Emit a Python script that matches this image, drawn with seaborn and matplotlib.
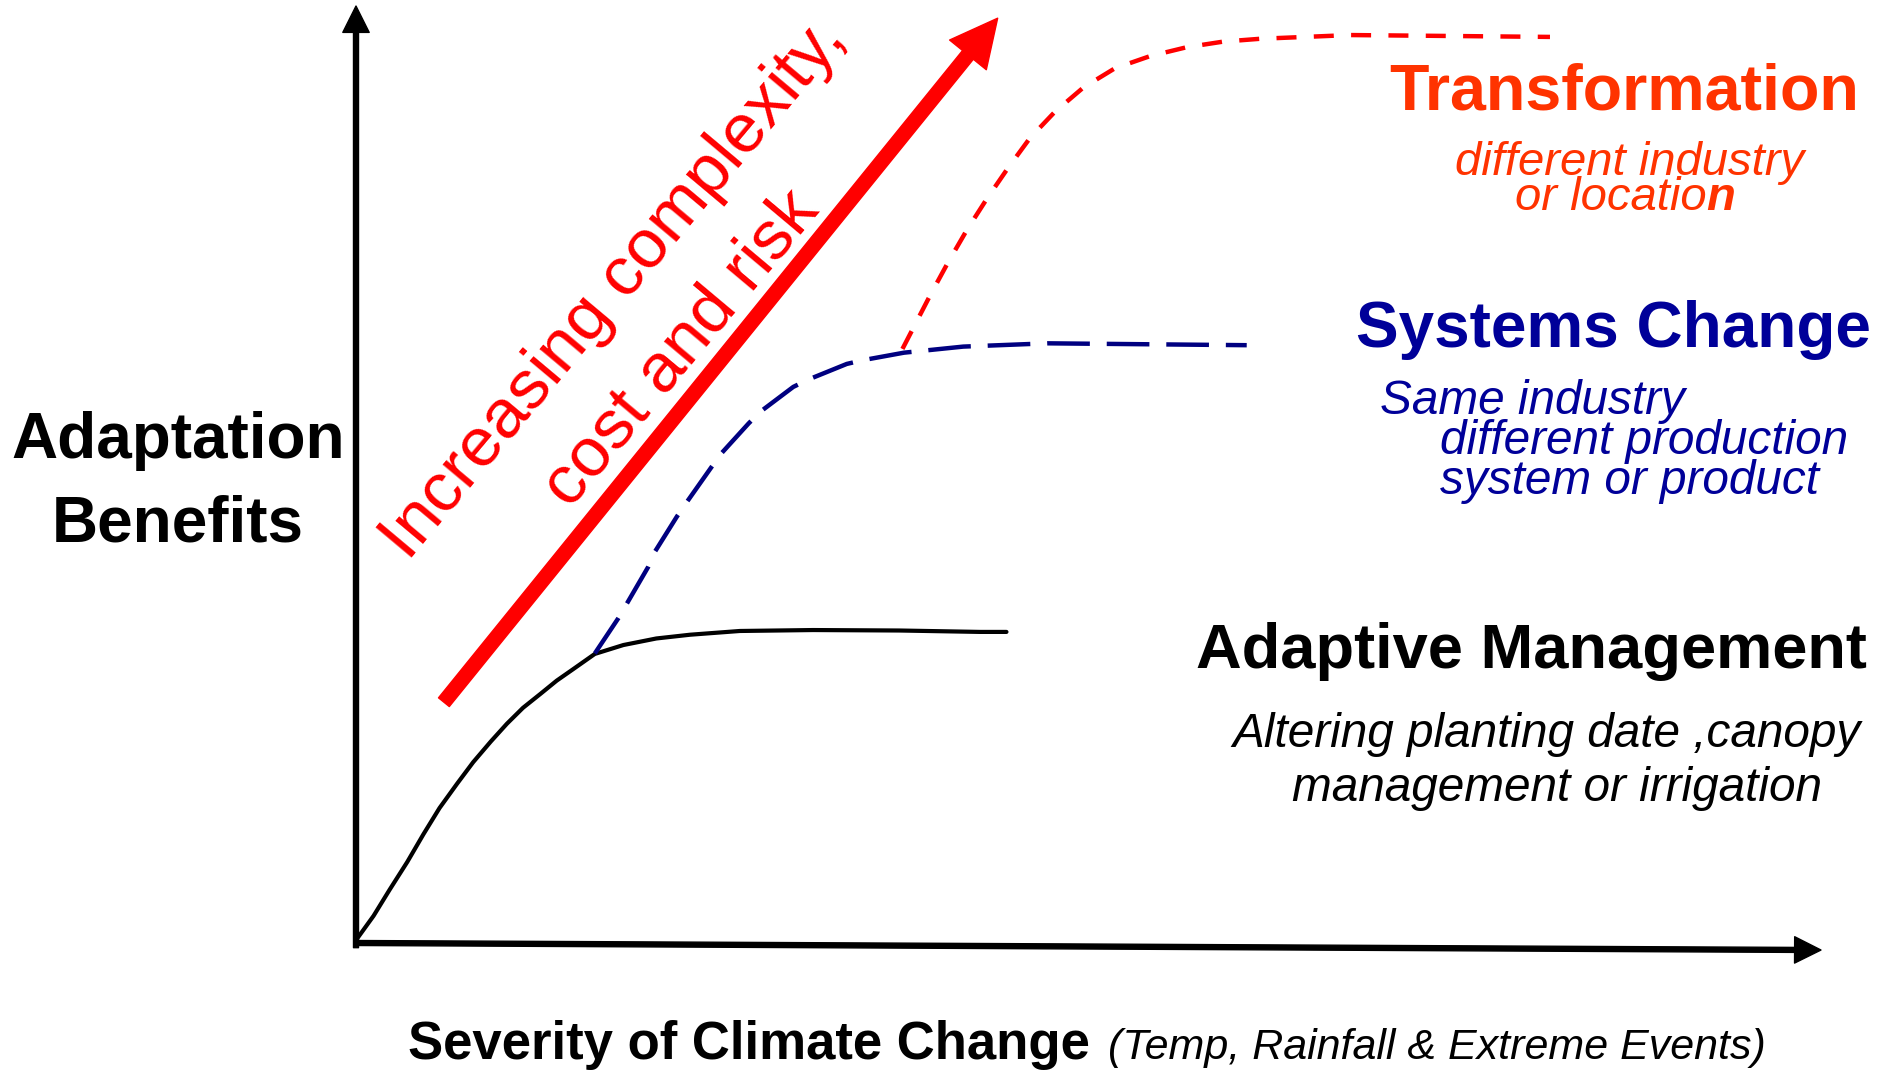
import matplotlib
matplotlib.use('Agg')
import matplotlib.pyplot as plt
import seaborn as sns
import pandas as pd

# conceptual curves: x = severity of climate change (0-100), y = adaptation benefit (0-100)
adaptive_x = [0.0, 1.2, 2.3, 3.5, 4.6, 5.7, 6.9, 8.0, 9.2, 10.3, 11.4, 12.6, 13.7, 14.8,
              16.3, 18.25, 20.5, 22.8, 26.2, 31.2, 37.1, 42.6, 44.4]
adaptive_y = [0.3, 2.9, 5.7, 8.65, 11.6, 14.4, 17.0, 19.3, 21.5, 23.4, 25.1, 26.6, 28.0, 29.2,
              30.85, 31.8, 32.5, 32.9, 33.3, 33.4, 33.35, 33.2, 33.2]

systems_x = [16.3, 17.9, 18.5, 19.95, 20.4, 21.9, 22.6, 24.2, 24.85, 26.8, 27.6, 29.85, 30.9,
             33.5, 34.6, 37.4, 41.45, 47.2, 54.0, 60.8]
systems_y = [30.9, 34.65, 36.25, 40.15, 41.75, 45.5, 47.1, 50.65, 52.1, 55.45, 56.7, 59.35, 60.15,
             61.8, 62.2, 63.0, 63.65, 64.0, 63.9, 63.8]

transform_x = [37.3, 39.2, 40.4, 41.7, 43.05, 44.5, 46.0, 47.7, 49.65, 51.8, 54.2, 56.7,
               59.2, 61.7, 67.85, 74.7, 81.5]
transform_y = [63.4, 69.15, 72.6, 76.1, 79.4, 82.7, 85.9, 88.7, 91.3, 93.35, 94.65, 95.6,
               96.2, 96.5, 96.9, 96.8, 96.7]

# big red "increasing complexity" arrow (start, end)
trend_x = [6.0, 43.8]
trend_y = [25.7, 98.7]

y_label = ['Adaptation', 'Benefits']
x_label_main = 'Severity of Climate Change'
x_label_note = '(Temp, Rainfall & Extreme Events)'
trend_label = ['Increasing complexity,', 'cost and risk']
transform_label = ['Transformation', 'different industry', 'or locatio', 'n']
systems_label = ['Systems Change', 'Same industry', 'different production', 'system or product']
adaptive_label = ['Adaptive Management', 'Altering planting date ,canopy',
                  'management or irrigation']

RED = '#FF0000'
ORANGE = '#FF3300'
NAVY = '#000099'
NAVY_LINE = '#000080'

sns.set_style('white')
plt.rcParams['font.family'] = ['Liberation Sans', 'DejaVu Sans']
plt.rcParams['text.color'] = 'black'

W, H = 1883, 1074
fig = plt.figure(figsize=(W / 100, H / 100), dpi=100)
ax = fig.add_axes([356 / W, (H - 943) / H, (1821 - 356) / W, (943 - 6) / H])
ax.set_xlim(0, 100)
ax.set_ylim(0, 100)

curves = pd.concat([
    pd.DataFrame({'sev': adaptive_x, 'ben': adaptive_y, 'kind': 'adaptive'}),
    pd.DataFrame({'sev': systems_x, 'ben': systems_y, 'kind': 'systems'}),
    pd.DataFrame({'sev': transform_x, 'ben': transform_y, 'kind': 'transform'}),
])

sns.lineplot(data=curves[curves.kind == 'adaptive'], x='sev', y='ben', ax=ax,
             color='black', lw=3.0, estimator=None, sort=False)
sns.lineplot(data=curves[curves.kind == 'systems'], x='sev', y='ben', ax=ax,
             color=NAVY_LINE, lw=3.2, estimator=None, sort=False)
ax.lines[-1].set_dashes((9.6, 3.8))
sns.lineplot(data=curves[curves.kind == 'transform'], x='sev', y='ben', ax=ax,
             color=RED, lw=3.2, estimator=None, sort=False)
ax.lines[-1].set_dashes((4.5, 3.9))
for ln in ax.lines:
    ln.set_solid_joinstyle('round')
ax.axis('off')

# axes arrows
axis_arrow = dict(width=3.6, headwidth=19, headlength=19, color='black', shrink=0)
ax.annotate('', xy=(0, 100), xytext=(0, -0.5), arrowprops=axis_arrow, annotation_clip=False)
ax.annotate('', xy=(100, -0.75), xytext=(0, 0), arrowprops=axis_arrow, annotation_clip=False)

# trend arrow
ax.annotate('', xy=(trend_x[1], trend_y[1]), xytext=(trend_x[0], trend_y[0]),
            arrowprops=dict(width=10, headwidth=34, headlength=34, color=RED, shrink=0),
            annotation_clip=False)


def put(x, y, s, **kw):
    return fig.text(x / W, 1 - y / H, s, va='baseline', **kw)


# trend text along the arrow
put(628, 301, trend_label[0], color=RED, fontsize=50, rotation=50,
    rotation_mode='anchor', ha='center')
put(695, 360, trend_label[1], color=RED, fontsize=50, rotation=50,
    rotation_mode='anchor', ha='center')

# y label
put(178, 458, y_label[0], fontsize=46, fontweight='bold', ha='center')
put(178, 542, y_label[1], fontsize=46, fontweight='bold', ha='center')

# x label
put(408, 1059, x_label_main, fontsize=38, fontweight='bold', ha='left')
put(1108, 1059, x_label_note, fontsize=31, style='italic', ha='left')

# transformation
put(1624, 109, transform_label[0], fontsize=46.5, fontweight='bold', color=ORANGE, ha='center')
put(1630, 175, transform_label[1], fontsize=34, style='italic', color=ORANGE, ha='center')
t = put(1515, 210, transform_label[2], fontsize=34, style='italic', color=ORANGE, ha='left')
ax.annotate(transform_label[3], xy=(1, 0), xycoords=t, va='bottom', ha='left',
            fontsize=34, style='italic', fontweight='bold', color=ORANGE)

# systems change
put(1613, 347, systems_label[0], fontsize=46, fontweight='bold', color=NAVY, ha='center')
put(1380, 414, systems_label[1], fontsize=34.4, style='italic', color=NAVY, ha='left')
put(1440, 454, systems_label[2], fontsize=34.4, style='italic', color=NAVY, ha='left')
put(1440, 494, systems_label[3], fontsize=34.4, style='italic', color=NAVY, ha='left')

# adaptive management
put(1531, 668, adaptive_label[0], fontsize=45.5, fontweight='bold', ha='center')
put(1546, 747, adaptive_label[1], fontsize=34.4, style='italic', ha='center')
put(1557, 801, adaptive_label[2], fontsize=34.4, style='italic', ha='center')

fig.savefig('out.png', dpi=100, facecolor='white')
